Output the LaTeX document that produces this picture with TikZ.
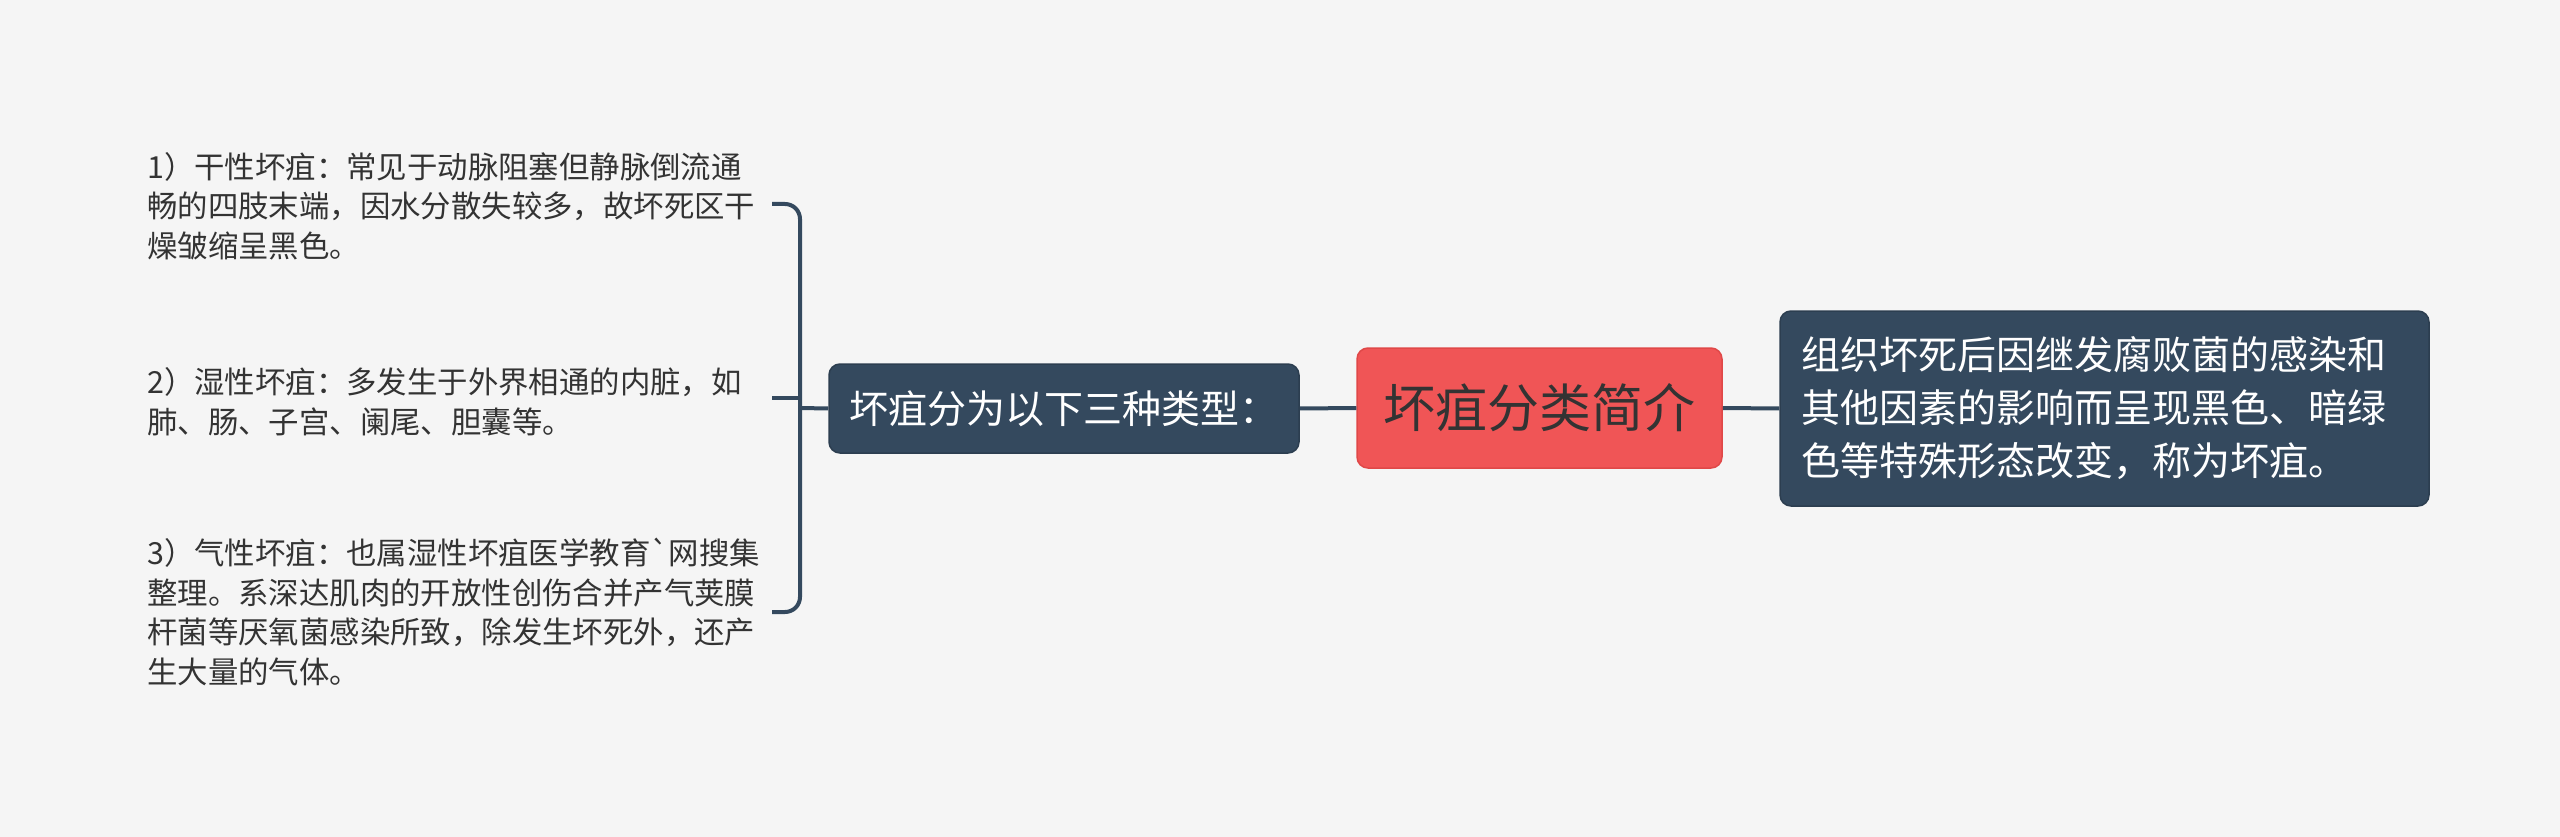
\documentclass[tikz,border=0pt]{standalone}
\usepackage{fontspec}
\setmainfont{Noto Sans CJK SC}[Ligatures=TeXOff]
\definecolor{bgc}{HTML}{F5F5F5}
\definecolor{navy}{HTML}{34495E}
\definecolor{navyedge}{HTML}{2C3E50}
\definecolor{redc}{HTML}{F05556}
\definecolor{rededge}{HTML}{E04848}
\definecolor{txt}{HTML}{333333}
\tikzset{
  conn/.style={draw=navy, line width=4pt},
  darkbox/.style={fill=navy, draw=navyedge, line width=1.5pt, rounded corners=11pt, text=white},
  redbox/.style={fill=redc, draw=rededge, line width=1.5pt, rounded corners=11pt, text=txt},
  leaf/.style={anchor=west, align=left, inner sep=0pt, text=txt, font=\fontsize{30.4}{39.5}\selectfont},
}
\begin{document}
\begin{tikzpicture}[x=1pt,y=-1pt]
\useasboundingbox (0,0) rectangle (2560,837);
\fill[bgc] (0,0) rectangle (2560,837);

\node[redbox, minimum width=365pt, minimum height=120pt, inner sep=0pt,
      font=\fontsize{52}{60}\selectfont] (root) at (1539.5,408) {坏疽分类简介};

\node[darkbox, minimum width=470pt, minimum height=89pt, inner sep=0pt,
      font=\fontsize{39}{50}\selectfont] (types) at (1064,408.5) {坏疽分为以下三种类型：};

\node[darkbox, minimum width=649pt, minimum height=195pt, inner xsep=21pt, inner ysep=0pt,
      text width=607pt, align=left,
      font=\fontsize{39}{53}\selectfont] (def) at (2104.5,408.5)
  {组织坏死后因继发腐败菌的感染和\\其他因素的影响而呈现黑色、暗绿\\色等特殊形态改变，称为坏疽。};

\node[leaf] (t1) at (147,206)
  {1）干性坏疽：常见于动脉阻塞但静脉倒流通\\畅的四肢末端，因水分散失较多，故坏死区干\\燥皱缩呈黑色。};
\node[leaf] (t2) at (147,402)
  {2）湿性坏疽：多发生于外界相通的内脏，如\\肺、肠、子宫、阑尾、胆囊等。};
\node[leaf] (t3) at (147,612)
  {3）气性坏疽：也属湿性坏疽医学教育`网搜集\\整理。系深达肌肉的开放性创伤合并产气荚膜\\杆菌等厌氧菌感染所致，除发生坏死外，还产\\生大量的气体。};

\coordinate (b1) at (772,204);
\coordinate (b2) at (772,398);
\coordinate (b3) at (772,612);
\coordinate (bt) at (800,204);
\coordinate (bm) at (800,398);
\coordinate (bj) at (800,408);
\coordinate (bb) at (800,612);

\draw[conn] (root.east) -- (def.west);
\draw[conn] (root.west) -- (types.east);
\draw[conn] (bj) -- (types.west);
\draw[conn, rounded corners=15pt] (b1) -- (bt) -- (bb) -- (b3);
\draw[conn] (b2) -- (bm);
\end{tikzpicture}
\end{document}
